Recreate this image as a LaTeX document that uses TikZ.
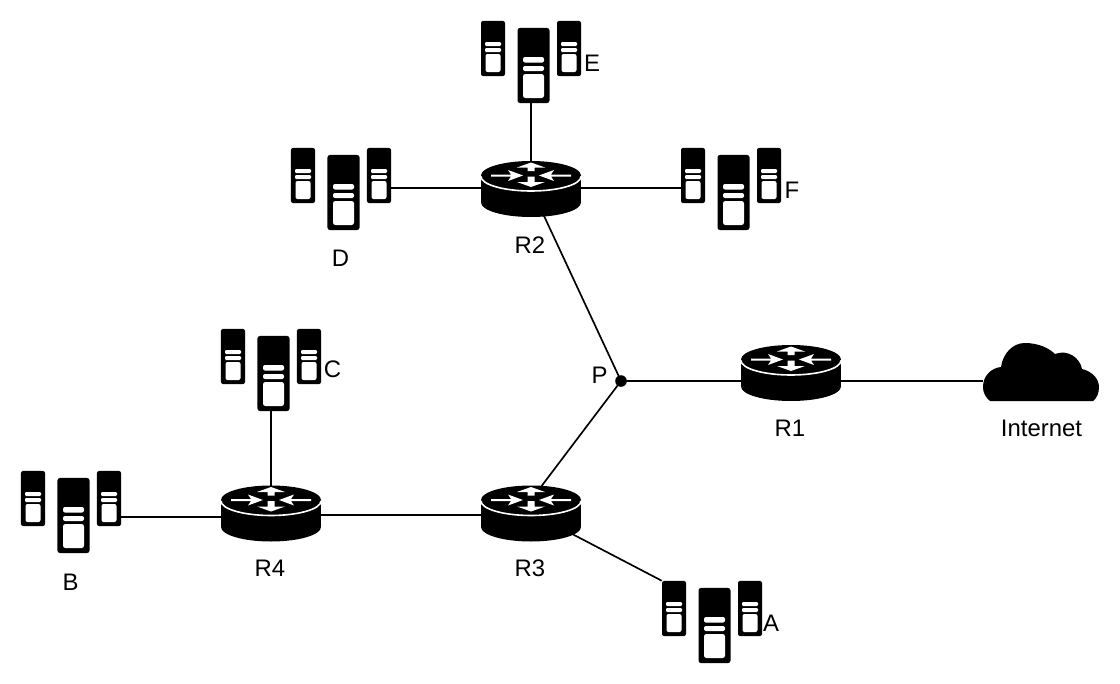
\documentclass[tikz,border=0pt]{standalone}
\usepackage{fontspec}
\setmainfont{Liberation Sans}
\usetikzlibrary{backgrounds}

\tikzset{
  lbl/.style={font=\fontsize{17}{20}\selectfont,inner sep=0pt},
  wire/.style={line width=.042cm},
  hub/.style={circle,fill=black,inner sep=0pt,minimum size=.29cm},
  routerbox/.style={inner sep=0pt,minimum width=2.5cm,minimum height=1.4cm},
  smallbox/.style={fill=black,rounded corners=.05cm,inner sep=0pt,minimum width=.6cm,minimum height=1.375cm},
  bigbox/.style={fill=black,rounded corners=.06cm,inner sep=0pt,minimum width=.8cm,minimum height=1.875cm},
  router/.pic={
    \coordinate (top) at (0,0);
    \node[routerbox] (body) at (0,12.5) {};
    \fill (0,27) ellipse [x radius=50,y radius=14.5];
    \fill (-50,0) rectangle (50,27);
    \fill (0,0) ellipse [x radius=50,y radius=14.5];
    \draw[white,line width=.04cm] (-50,1) arc[start angle=180,end angle=0,x radius=50,y radius=14.5];
    % the four arrows
    \fill[white] (-40,-1) -- (-20,-1) -- (-23,-5.5) -- (-8,0) -- (-23,5.5) -- (-20,1) -- (-40,1) -- cycle;
    \fill[white] (40,-1) -- (20,-1) -- (23,-5.5) -- (8,0) -- (23,5.5) -- (20,1) -- (40,1) -- cycle;
    \fill[white] (-3.5,-4.5) -- (-3.5,-8) -- (-14,-8) -- (0,-13) -- (14,-8) -- (3.5,-8) -- (3.5,-4.5) -- cycle;
    \fill[white] (-3.5,1) -- (-3.5,6.5) -- (-14,6.5) -- (0,11.5) -- (14,6.5) -- (3.5,6.5) -- (3.5,1) -- cycle;
  },
  servers/.pic={
    \node[smallbox] (left) at (-38,-13.5) {};
    \node[smallbox] (right) at (38,-13.5) {};
    \node[bigbox] (big) at (2.5,3.5) {};
    \foreach \sx in {-38,38} {
      \fill[white,rounded corners=.03cm] (\sx-8,-20) rectangle (\sx+8,-16);
      \fill[white,rounded corners=.03cm] (\sx-8,-14) rectangle (\sx+8,-10);
      \fill[white,rounded corners=.05cm] (\sx-7.5,-8) rectangle (\sx+7.5,10);
    }
    \fill[white,rounded corners=.05cm] (-8,-5) rectangle (13,.5);
    \fill[white,rounded corners=.05cm] (-8,4) rectangle (13,9);
    \fill[white,rounded corners=.06cm] (-8,12) rectangle (13,36);
  }
}

\begin{document}
\begin{tikzpicture}[x=.025cm,y=-.025cm]
  \useasboundingbox (0,0) rectangle (1120,684);

  \pic (R1-) at (791,359.5) {router};
  \pic (R2-) at (531,175.5) {router};
  \pic (R3-) at (531,500) {router};
  \pic (R4-) at (271,500) {router};

  \pic (A-) at (712,622) {servers};
  \pic (B-) at (71,512) {servers};
  \pic (C-) at (271,370) {servers};
  \pic (D-) at (341,189) {servers};
  \pic (E-) at (531,62) {servers};
  \pic (F-) at (731,189) {servers};

  \node[hub] (P) at (621,381) {};

  % cloud
  \node[inner sep=0pt,minimum width=2.9cm,minimum height=1.45cm] (cloud) at (1041,372) {};
  \fill (990,401) .. controls (985,397) and (983,392) .. (983,387)
    .. controls (983,376) and (991,368) .. (1001,367)
    .. controls (1003,353) and (1013,343) .. (1025,343)
    .. controls (1038,343) and (1049,348) .. (1055,354)
    .. controls (1068,349) and (1080,358) .. (1082,369)
    .. controls (1091,371) and (1099,378) .. (1099,387)
    .. controls (1099,393) and (1097,398) .. (1093,401) -- cycle;

  \node[lbl] (lA) at (771,623) {A};
  \node[lbl] (lB) at (70.5,582) {B};
  \node[lbl] (lC) at (332.5,369.5) {C};
  \node[lbl] (lD) at (340.5,258) {D};
  \node[lbl] (lE) at (592,63) {E};
  \node[lbl] (lF) at (792,190) {F};
  \node[lbl] (lP) at (599.5,375) {P};
  \node[lbl] (lR1) at (790,428) {R1};
  \node[lbl] (lR2) at (530,245) {R2};
  \node[lbl] (lR3) at (530,568) {R3};
  \node[lbl] (lR4) at (270,568) {R4};
  \node[lbl] (lnet) at (1041.5,428) {Internet};

  \coordinate (R4-in) at (271,517);
  \coordinate (R4-out) at (271,515);
  \coordinate (R3-in) at (531,515);

  \begin{scope}[on background layer]
    \draw[wire] (P.center) -- (P -| cloud.west);
    \draw[wire] (P.center) -- (R2-body.center);
    \draw[wire] (P.center) -- (R3-top);
    \draw[wire] (E-big.south -| R2-top) -- (R2-top);
    \draw[wire] (D-right.east |- R2-body.center) -- (R2-body.center);
    \draw[wire] (F-left.west |- R2-body.center) -- (R2-body.center);
    \draw[wire] (R4-out) -- (R3-in);
    \draw[wire] (R3-body.center) -- (A-left.north west);
    \draw[wire] (C-big.south -| R4-top) -- (R4-top);
    \draw[wire] (B-right.east |- R4-in) -- (R4-in);
  \end{scope}
\end{tikzpicture}
\end{document}
